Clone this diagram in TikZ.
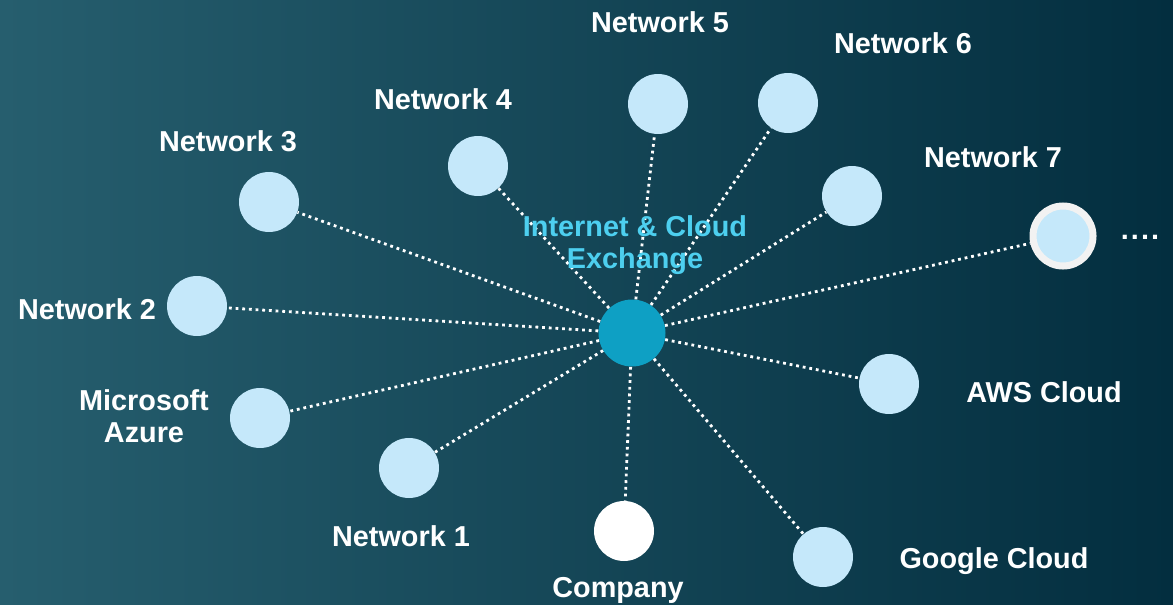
\documentclass[tikz,border=0pt]{standalone}
\usepackage{fontspec}
\setmainfont{Liberation Sans}
\usepackage{tikz}
\usetikzlibrary{positioning, calc, arrows.meta}
\definecolor{bgLeft}{RGB}{38,94,110}
\definecolor{bgRight}{RGB}{3,46,63}
\definecolor{netBlue}{RGB}{197,232,250}
\definecolor{hubBlue}{RGB}{14,160,196}
\definecolor{hubText}{RGB}{77,207,239}
\definecolor{ringGrey}{RGB}{242,242,242}
\tikzset{
  net/.style={circle, fill=netBlue, minimum size=1.2cm, inner sep=0pt},
  hub/.style={circle, fill=hubBlue, minimum size=1.34cm, inner sep=0pt},
  lbl/.style={text=white, font=\fontsize{16.4}{18.4}\selectfont\bfseries, align=center, inner sep=0pt},
  link/.style={white, line width=1.6pt, dash pattern=on 1.6pt off 2.2pt}
}
\begin{document}
\begin{tikzpicture}[x=0.02cm, y=-0.02cm]
      \shade[shading angle=75, left color=bgLeft, right color=bgRight] (0,0) rectangle (1173,605);
      \useasboundingbox (0,0) rectangle (1173,605);

      \node[hub] (IX) at (632,333) {};

      \node[net] (N1) at (409,468) {};
      \node[net] (N2) at (197,306) {};
      \node[net] (N3) at (269,202) {};
      \node[net] (N4) at (478,166) {};
      \node[net] (N5) at (658,104) {};
      \node[net] (N6) at (788,103) {};
      \node[net] (N7) at (852,196) {};
      \node[net, draw=ringGrey, line width=4pt] (More) at (1063,236) {};
      \node[net] (AWS) at (889,384) {};
      \node[net] (GC) at (823,557) {};
      \node[net] (MA) at (260,418) {};
      \node[circle, fill=white, minimum size=1.2cm, inner sep=0pt] (Co) at (624,531) {};

      \foreach \n in {N1,N2,N3,N4,N5,N6,N7,More,AWS,GC,MA,Co}
        \draw[link] (IX) -- (\n);

      \node[lbl] (L5) at (660,22) {Network 5};
      \node[lbl] (L6) at (903,43) {Network 6};
      \node[lbl] (L4) at (443,99) {Network 4};
      \node[lbl] (L3) at (228,141) {Network 3};
      \node[lbl] (L7) at (993,157) {Network 7};
      \node[lbl] (L2) at (87,309) {Network 2};
      \node[lbl] (LMA) at (144,416) {Microsoft\\Azure};
      \node[lbl] (L1) at (401,536) {Network 1};
      \node[lbl] (LCo) at (618,590) {Company};
      \node[lbl] (LGC) at (994,561) {Google Cloud};
      \node[lbl] (LAWS) at (1044,392) {AWS Cloud};
      \node[lbl] (LMore) at (1140,237) {.\hspace{1.2pt}.\hspace{1.2pt}.\hspace{1.2pt}.};
      \node[lbl, text=hubText] (LIX) at (635,245) {Internet \& Cloud\\Exchange};
    \end{tikzpicture}
\end{document}
